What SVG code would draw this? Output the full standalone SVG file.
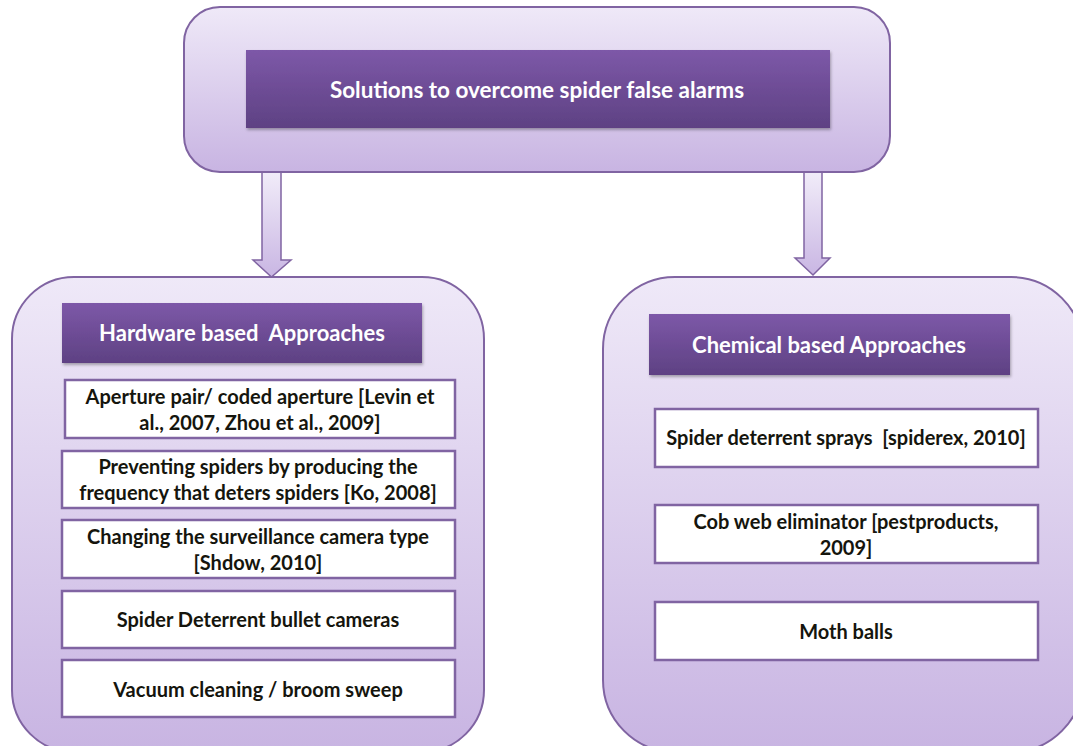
<svg xmlns="http://www.w3.org/2000/svg" width="1073" height="746" viewBox="0 0 1073 746">
  <defs>
    <linearGradient id="panelFill" x1="0" y1="0" x2="0" y2="1">
      <stop offset="0" stop-color="#efe9f8"/>
      <stop offset="1" stop-color="#c8b4e2"/>
    </linearGradient>
    <linearGradient id="headFill" x1="0" y1="0" x2="0" y2="1">
      <stop offset="0" stop-color="#7d58a8"/>
      <stop offset="1" stop-color="#5e4183"/>
    </linearGradient>
    <linearGradient id="arrowFill" x1="0" y1="0" x2="0" y2="1">
      <stop offset="0" stop-color="#f1ecf9"/>
      <stop offset="1" stop-color="#c9b6e3"/>
    </linearGradient>
    <filter id="shadow" x="-5%" y="-10%" width="110%" height="130%">
      <feDropShadow dx="1" dy="2" stdDeviation="1.5" flood-color="#000" flood-opacity="0.3"/>
    </filter>
  </defs>
  <style>
    .panel { fill: url(#panelFill); stroke: #8064a2; stroke-width: 2; }
    .head { fill: url(#headFill); filter: url(#shadow); }
    .item { fill: #ffffff; stroke: #8064a2; stroke-width: 2.5; }
    .arrow { fill: url(#arrowFill); stroke: #8064a2; stroke-width: 1.5; }
    text { font-family: Lato, "Liberation Sans", sans-serif; font-weight: bold; text-anchor: middle; white-space: pre; }
    .headText { fill: #ffffff; }
    .t1 { font-size: 22.5px; }
    .t2 { font-size: 22px; }
    .itemText { fill: #15150d; font-size: 20px; }
  </style>

  <!-- connectors: block arrows from the root panel -->
  <g id="connectors">
    <path class="arrow" d="M262,172 L281,172 L281,260 L291,260 L271.5,277 L253,260 L262,260 Z"/>
    <path class="arrow" d="M804,172 L822,172 L822,258 L830,258 L813,275 L795,258 L804,258 Z"/>
  </g>

  <!-- root -->
  <g id="root">
    <rect class="panel" x="184" y="7" width="706" height="165" rx="36" ry="36"/>
    <rect class="head" x="246" y="50" width="584" height="78"/>
    <text class="headText t1" x="537" y="98">Solutions to overcome spider false alarms</text>
  </g>

  <!-- hardware branch -->
  <g id="hardware">
    <rect class="panel" x="12" y="277" width="472" height="475" rx="62" ry="62"/>
    <rect class="head" x="62" y="303" width="360" height="60"/>
    <text class="headText t2" x="242" y="341">Hardware based  Approaches</text>
  </g>
  <g id="hw-aperture">
    <rect class="item" x="65" y="380" width="390" height="58"/>
    <text class="itemText" x="260" y="404">Aperture pair/ coded aperture [Levin et</text>
    <text class="itemText" x="260" y="430">al., 2007, Zhou et al., 2009]</text>
  </g>
  <g id="hw-frequency">
    <rect class="item" x="62" y="451" width="393" height="57"/>
    <text class="itemText" x="258" y="474">Preventing spiders by producing the</text>
    <text class="itemText" x="258" y="500">frequency that deters spiders [Ko, 2008]</text>
  </g>
  <g id="hw-camera-type">
    <rect class="item" x="62" y="520" width="393" height="58"/>
    <text class="itemText" x="258" y="544">Changing the surveillance camera type</text>
    <text class="itemText" x="258" y="570">[Shdow, 2010]</text>
  </g>
  <g id="hw-bullet">
    <rect class="item" x="62" y="591" width="393" height="57"/>
    <text class="itemText" x="258" y="627">Spider Deterrent bullet cameras</text>
  </g>
  <g id="hw-vacuum">
    <rect class="item" x="62" y="660" width="393" height="57"/>
    <text class="itemText" x="258" y="697">Vacuum cleaning / broom sweep</text>
  </g>

  <!-- chemical branch -->
  <g id="chemical">
    <rect class="panel" x="603" y="277" width="480" height="475" rx="72" ry="72"/>
    <rect class="head" x="649" y="314" width="361" height="61"/>
    <text class="headText t2" x="829" y="353">Chemical based Approaches</text>
  </g>
  <g id="ch-sprays">
    <rect class="item" x="655" y="409" width="383" height="58"/>
    <text class="itemText" x="846" y="445">Spider deterrent sprays  [spiderex, 2010]</text>
  </g>
  <g id="ch-cobweb">
    <rect class="item" x="655" y="505" width="383" height="58"/>
    <text class="itemText" x="846" y="529">Cob web eliminator [pestproducts,</text>
    <text class="itemText" x="846" y="555">2009]</text>
  </g>
  <g id="ch-mothballs">
    <rect class="item" x="655" y="602" width="383" height="58"/>
    <text class="itemText" x="846" y="639">Moth balls</text>
  </g>
</svg>
